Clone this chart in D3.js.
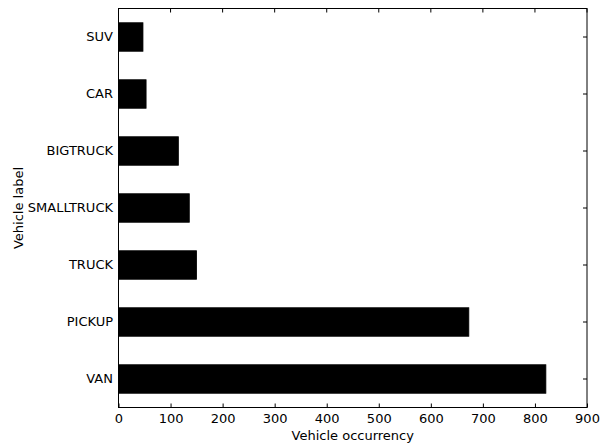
<!DOCTYPE html>
<html>
<head>
<meta charset="utf-8">
<script src="https://cdn.jsdelivr.net/npm/d3@7/dist/d3.min.js"></script>
<style>
  html, body { margin: 0; padding: 0; background: #fff; }
  svg { display: block; }
  text { font-family: "DejaVu Sans", sans-serif; fill: #000; }
</style>
</head>
<body>
<svg id="chart" width="600" height="445"></svg>
<script>
// Vehicle counts per label, top to bottom
const categories = ["SUV", "CAR", "BIGTRUCK", "SMALLTRUCK", "TRUCK", "PICKUP", "VAN"];
const counts = [47, 53, 115, 136, 150, 673, 821];
const xTicks = [0, 100, 200, 300, 400, 500, 600, 700, 800, 900];

const svg = d3.select("#chart");
const margin = { left: 118.5, right: 13, top: 8.5, bottom: 37.5 };
const W = 600, H = 445;
const x0 = margin.left, x1 = W - margin.right;
const y0 = margin.top, y1 = H - margin.bottom;
const fontSize = 13;

const x = d3.scaleLinear().domain([0, 900]).range([x0, x1]);
const y = d3.scaleBand().domain(categories).range([y0, y1]).paddingInner(0.5).paddingOuter(0.25);

const data = categories.map((c, i) => ({ label: c, value: counts[i] }));

// bars
svg.append("g").selectAll("rect").data(data).join("rect")
  .attr("x", x(0))
  .attr("y", d => y(d.label))
  .attr("width", d => x(d.value) - x(0))
  .attr("height", y.bandwidth())
  .attr("fill", "#000")
  .attr("stroke", "#000")
  .attr("stroke-width", 0.8);

const tickLen = 4;
const cy = d => y(d) + y.bandwidth() / 2;

// bottom axis with inward ticks
const gx = svg.append("g").attr("transform", `translate(0,${y1})`)
  .call(d3.axisBottom(x).tickValues(xTicks).tickSizeInner(-tickLen).tickSizeOuter(0).tickPadding(6));
gx.select(".domain").remove();
gx.selectAll("line").attr("stroke", "#000").attr("stroke-width", 1);
gx.selectAll("text").attr("font-size", fontSize).attr("font-family", "DejaVu Sans, sans-serif");

// top ticks
svg.append("g").selectAll("line").data(xTicks).join("line")
  .attr("x1", d => x(d)).attr("x2", d => x(d))
  .attr("y1", y0).attr("y2", y0 + tickLen)
  .attr("stroke", "#000");

// left axis labels, inward ticks
const gy = svg.append("g").attr("transform", `translate(${x0},0)`)
  .call(d3.axisLeft(y).tickSizeInner(-tickLen).tickSizeOuter(0).tickPadding(5.5));
gy.select(".domain").remove();
gy.selectAll("line").attr("stroke", "#000");
gy.selectAll("text").attr("font-size", fontSize).attr("font-family", "DejaVu Sans, sans-serif");

// right ticks
svg.append("g").selectAll("line").data(categories).join("line")
  .attr("x1", x1 - tickLen).attr("x2", x1)
  .attr("y1", d => cy(d)).attr("y2", d => cy(d))
  .attr("stroke", "#000");

// frame
svg.append("rect")
  .attr("x", x0).attr("y", y0)
  .attr("width", x1 - x0).attr("height", y1 - y0)
  .attr("fill", "none").attr("stroke", "#000").attr("stroke-width", 1);

// axis titles
svg.append("text")
  .attr("x", (x0 + x1) / 2).attr("y", 440)
  .attr("text-anchor", "middle").attr("font-size", fontSize)
  .text("Vehicle occurrency");

svg.append("text")
  .attr("transform", `translate(23,${(y0 + y1) / 2}) rotate(-90)`)
  .attr("text-anchor", "middle").attr("font-size", fontSize)
  .text("Vehicle label");
</script>
</body>
</html>
